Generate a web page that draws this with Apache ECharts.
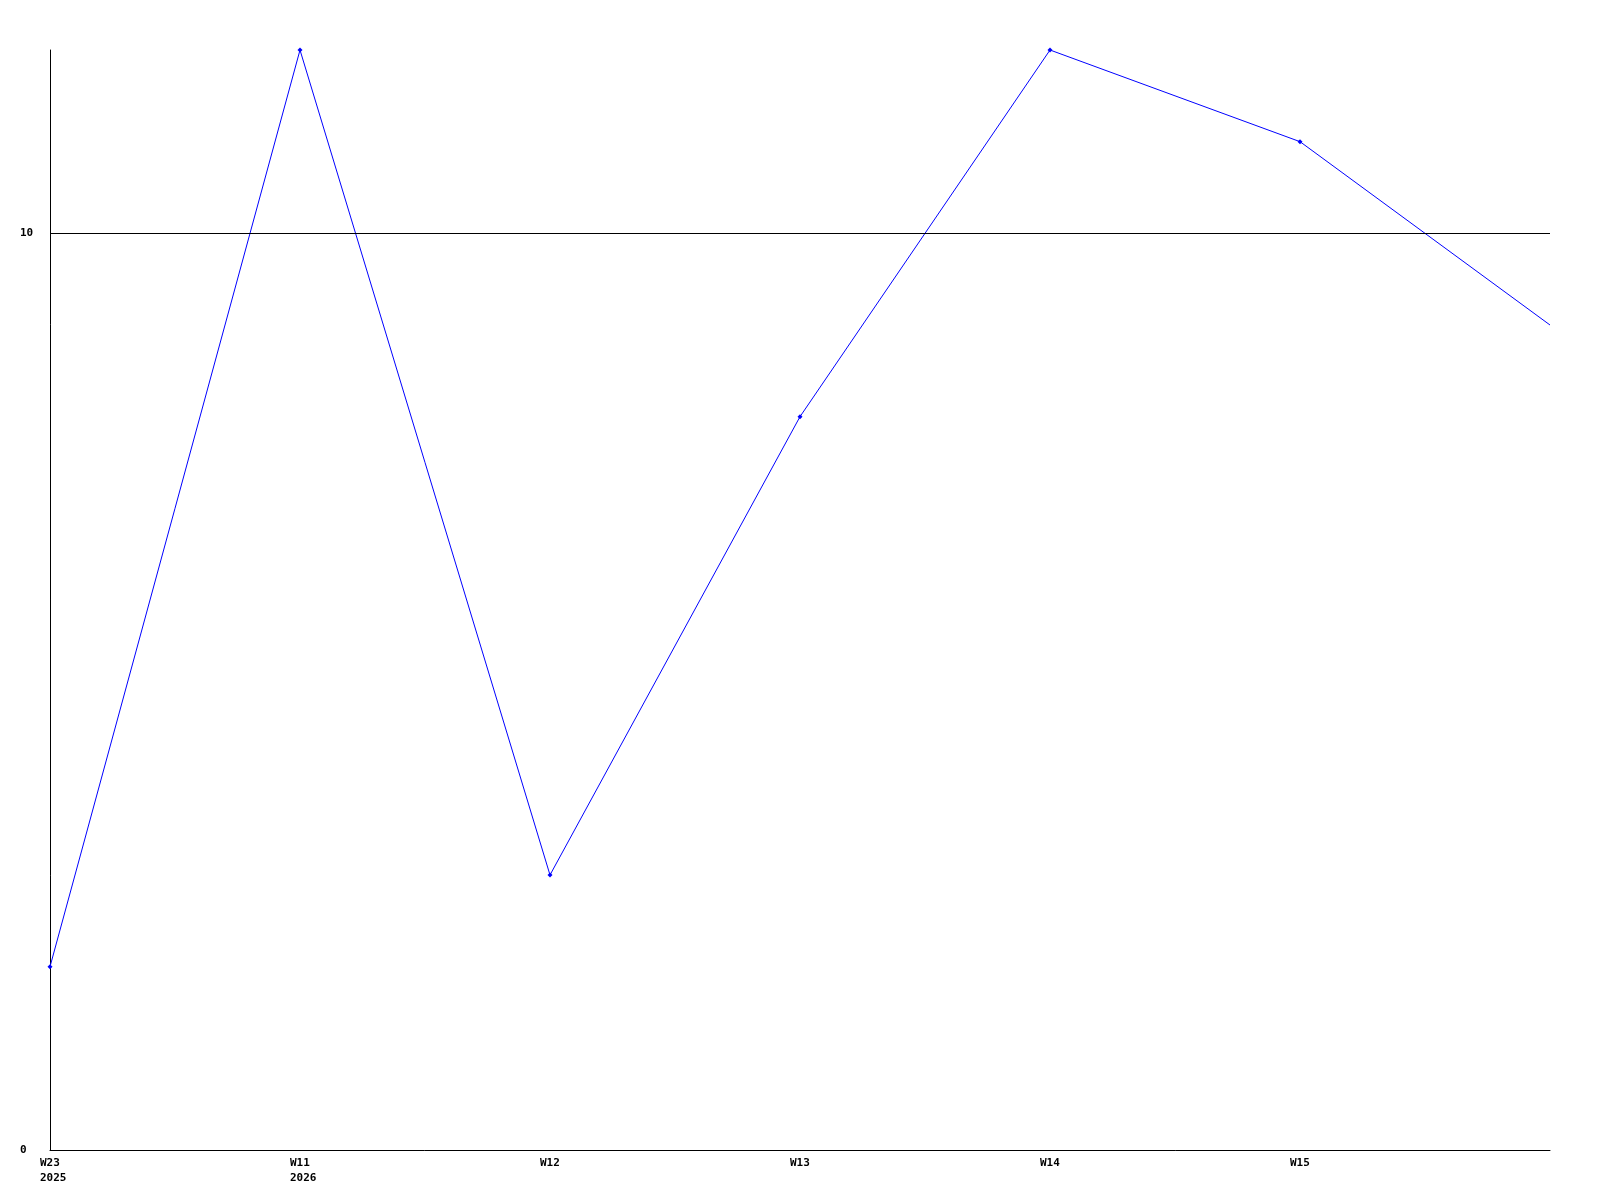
<!DOCTYPE html>
<html>
<head>
<meta charset="utf-8">
<script src="https://cdn.jsdelivr.net/npm/echarts@6/dist/echarts.min.js"></script>
<style>html,body{margin:0;padding:0;background:#fff;}#c{width:1600px;height:1200px;}</style>
</head>
<body>
<div id="c"></div>
<script>
const categories = ["W23\n2025", "W11\n2026", "W12", "W13", "W14", "W15", ""];
const values = [2, 12, 3, 8, 12, 11, 9];
const showMarker = [true, true, true, true, true, true, false];
const yTickValues = [0, 10];
const refLineValue = 10;

const chart = echarts.init(document.getElementById('c'), null, {renderer: 'canvas'});
const font = {fontFamily: 'DejaVu Sans Mono', fontWeight: 'bold', fontSize: 11, color: '#000'};
chart.setOption({
  animation: false,
  backgroundColor: '#fff',
  grid: {left: 50, right: 50, top: 50, bottom: 50, containLabel: false},
  xAxis: {
    type: 'category',
    data: categories,
    boundaryGap: false,
    axisLine: {lineStyle: {color: '#000', width: 1}},
    axisTick: {show: false},
    splitLine: {show: false},
    axisLabel: Object.assign({interval: 0, margin: 6, align: 'left', padding: [0, 0, 0, -10], lineHeight: 15}, font)
  },
  yAxis: {
    type: 'value',
    min: 0,
    max: 12,
    interval: 10,
    axisLine: {show: true, lineStyle: {color: '#000', width: 1}},
    axisTick: {show: false},
    splitLine: {show: false},
    axisLabel: Object.assign({margin: 30, align: 'left', customValues: yTickValues}, font)
  },
  series: [{
    type: 'line',
    data: values.map((v, i) => ({value: v, symbol: showMarker[i] ? 'diamond' : 'none'})),
    symbol: 'diamond',
    symbolSize: 5,
    showAllSymbol: true,
    lineStyle: {color: '#0000ff', width: 1},
    itemStyle: {color: '#0000ff'},
    markLine: {
      silent: true,
      symbol: 'none',
      label: {show: false},
      lineStyle: {color: '#000', width: 1, type: 'solid'},
      data: [{yAxis: refLineValue}]
    }
  }]
});
</script>
</body>
</html>
